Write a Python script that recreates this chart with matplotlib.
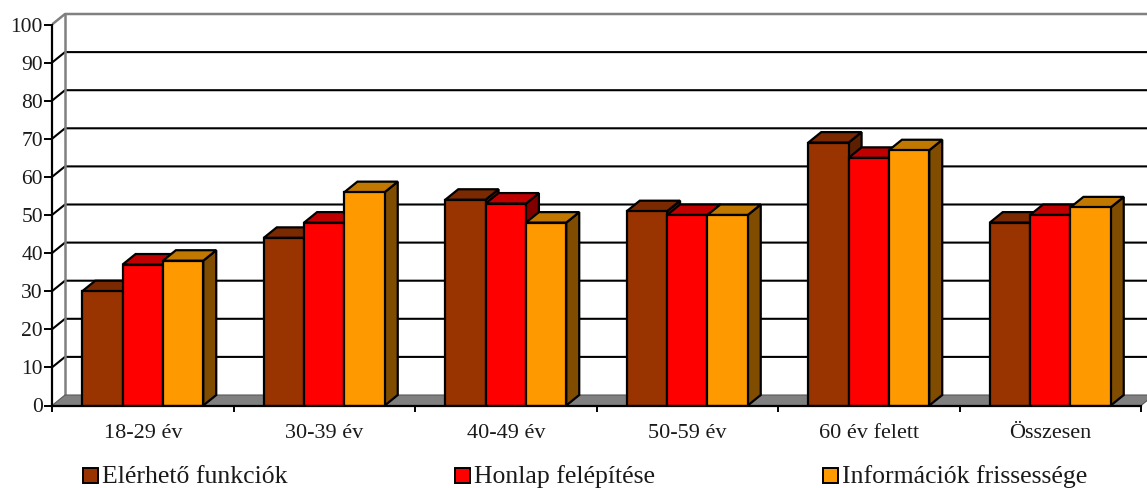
import matplotlib
matplotlib.use("Agg")
import matplotlib.pyplot as plt
from matplotlib.patches import Polygon, Rectangle

plt.rcParams["font.family"] = ["Liberation Serif", "DejaVu Serif"]

# korcsoportok és a három értékelt szempont (%)
groups = ["18-29 év", "30-39 év", "40-49 év", "50-59 év", "60 év felett", "Összesen"]
series_names = ["Elérhető funkciók", "Honlap felépítése", "Információk frissessége"]
elerheto = [30, 44, 54, 51, 69, 48]
honlap = [37, 48, 53, 50, 65, 50]
frissesseg = [38, 56, 48, 50, 67, 52]
y_ticks = list(range(0, 101, 10))

# színek: elülső lap, teteje, oldala
FRONT = ["#993300", "#FF0000", "#FF9900"]
TOP = ["#7A2900", "#C00000", "#C07800"]
SIDE = ["#5C1F00", "#800000", "#7F4C00"]

W, H = 1147, 488
PX_CAT = 181.5      # egy kategória szélessége pixelben
PX_UNIT = 3.81      # egy egység magassága pixelben
X0, Y0 = 52, 405.5  # az origó helye pixelben (felülről mérve)

DX = 13 / PX_CAT    # mélységi eltolás
DY = 10.5 / PX_UNIT
BAR_W = 0.2222
GAP = (1 - 3 * BAR_W) / 2

fig = plt.figure(figsize=(W / 100, H / 100), dpi=100)
ax = fig.add_axes([X0 / W, (H - Y0) / H, (W - X0) / W, Y0 / H])
xmax = (W - X0) / PX_CAT
ax.set_xlim(0, xmax)
ax.set_ylim(0, Y0 / PX_UNIT)

# padló
ax.add_patch(Polygon([(0, 0), (len(groups), 0), (len(groups) + DX, DY), (DX, DY)],
                     closed=True, facecolor="#808080", edgecolor="#5a5a5a",
                     lw=0.8, zorder=2))

# hátfal rácsvonalai és az oldalfal átlói
for v in y_ticks[1:-1]:
    ax.plot([0, DX, xmax], [v, v + DY, v + DY], color="black", lw=1.5, zorder=1)
top = y_ticks[-1]
ax.plot([0, DX, xmax], [top, top + DY, top + DY], color="#808080", lw=1.8, zorder=1)
ax.plot([DX, DX], [DY, top + DY], color="#808080", lw=1.8, zorder=1)

# 3D oszlopok, balról jobbra rajzolva
series = [elerheto, honlap, frissesseg]
z = 3
for i in range(len(groups)):
    for j, vals in enumerate(series):
        v = vals[i]
        x = i + GAP + j * BAR_W
        kw = dict(closed=True, edgecolor="black", lw=1.6, joinstyle="miter")
        ax.add_patch(Polygon([(x + BAR_W, 0), (x + BAR_W + DX, DY),
                              (x + BAR_W + DX, v + DY), (x + BAR_W, v)],
                             facecolor=SIDE[j], zorder=z, **kw))
        ax.add_patch(Polygon([(x, v), (x + BAR_W, v), (x + BAR_W + DX, v + DY),
                              (x + DX, v + DY)], facecolor=TOP[j], zorder=z, **kw))
        ax.add_patch(Polygon([(x, 0), (x + BAR_W, 0), (x + BAR_W, v), (x, v)],
                             facecolor=FRONT[j], zorder=z + 0.5, **kw))
        z += 1

# tengelyek
for s in ["top", "right"]:
    ax.spines[s].set_visible(False)
ax.spines["left"].set_bounds(0, 100)
ax.spines["bottom"].set_bounds(0, len(groups))
for s in ["left", "bottom"]:
    ax.spines[s].set_linewidth(1.6)
    ax.spines[s].set_zorder(50)

ax.set_yticks(y_ticks)
ax.set_yticklabels([str(t) for t in y_ticks], fontsize=15.5, color="#1a1a1a")
ax.tick_params(axis="y", direction="out", length=6, width=1.4, pad=0.5)

ax.set_xticks(range(len(groups) + 1))
ax.set_xticklabels([""] * (len(groups) + 1))
ax.tick_params(axis="x", which="major", direction="out", length=4.5, width=1.4)
ax.set_xticks([i + 0.5 for i in range(len(groups))], minor=True)
ax.set_xticklabels(groups, minor=True, fontsize=16, color="#1a1a1a")
ax.tick_params(axis="x", which="minor", length=0, pad=13.5)

# jelmagyarázat
legend_x = [83, 455, 823]
for name, color, lx in zip(series_names, FRONT, legend_x):
    fig.add_artist(Rectangle((lx / W, (H - 483) / H), 15 / W, 15 / H,
                             transform=fig.transFigure, facecolor=color,
                             edgecolor="black", lw=1.4))
    fig.text((lx + 19) / W, (H - 483) / H, name, fontsize=18.5,
             color="#1a1a1a", va="baseline", ha="left")

fig.savefig("out.png", dpi=100)
